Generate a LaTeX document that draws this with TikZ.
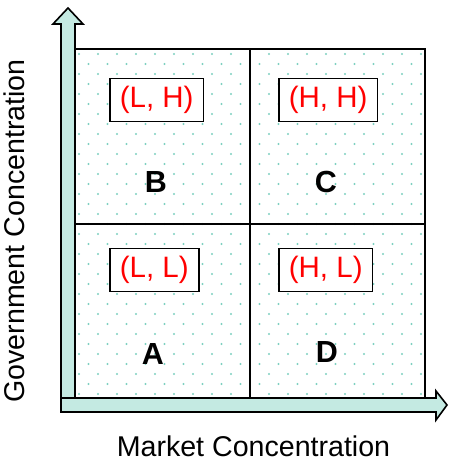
\documentclass[tikz,border=0pt]{standalone}
\usepackage{fontspec}
\setmainfont{Liberation Sans}
\definecolor{arrowfill}{RGB}{196,234,226}
\definecolor{dotcol}{RGB}{125,208,192}
\definecolor{labred}{RGB}{255,0,0}
\begin{document}
\begin{tikzpicture}[x=1pt,y=-1pt,
  pairbox/.style={draw=black,line width=1.7pt,fill=white,text=labred,inner xsep=10pt,
    minimum height=43pt,anchor=west,font=\fontsize{29.5}{30}\selectfont},
  quadletter/.style={anchor=base,font=\fontsize{30.5}{31}\selectfont\bfseries},
  axislabel/.style={anchor=base,font=\fontsize{28.6}{30}\selectfont},
  axisarrow/.style={draw=black,line width=1.6pt,fill=arrowfill,line join=miter}]
\useasboundingbox (0,0) rectangle (449,466);
% square background with dots
\fill[white] (75,49) rectangle (425,398);
\begin{scope}
\clip (75,49) rectangle (425,398);
\foreach \r in {0,...,35}{
  \pgfmathsetmacro{\yy}{54+10*\r}
  \pgfmathsetmacro{\off}{mod(\r,2)*9.5}
  \foreach \c in {0,...,19}{
    \fill[dotcol] ({79+\off+19*\c},\yy) circle (1.05pt);
  }
}
\end{scope}
% grid
\draw[line width=2.2pt] (75,49) rectangle (425,398);
\draw[line width=2.2pt] (250,49) -- (250,398);
\draw[line width=2.2pt] (75,224) -- (425,224);
% vertical axis arrow
\draw[axisarrow] (61,412) -- (61,24) -- (53,24) -- (68,8) -- (83,24) -- (75,24) -- (75,412) -- cycle;
% horizontal axis arrow
\draw[axisarrow] (61,398) -- (436,398) -- (436,391) -- (447,405) -- (436,420) -- (436,412) -- (61,412) -- cycle;
% pair boxes
\node[pairbox] (lh) at (109,100) {(L, H)};
\node[pairbox] (hh) at (278,100) {(H, H)};
\node[pairbox] (ll) at (109,270) {(L, L)};
\node[pairbox] (hl) at (278,270) {(H, L)};
% quadrant letters
\node[quadletter] (B) at (156,192) {B};
\node[quadletter] (C) at (326,192) {C};
\node[quadletter] (A) at (153,364) {A};
\node[quadletter] (D) at (327,362) {D};
% axis labels
\node[axislabel] (xlab) at (253.5,456) {Market Concentration};
\node[axislabel,rotate=90] (ylab) at (24,231) {Government Concentration};
\end{tikzpicture}
\end{document}
